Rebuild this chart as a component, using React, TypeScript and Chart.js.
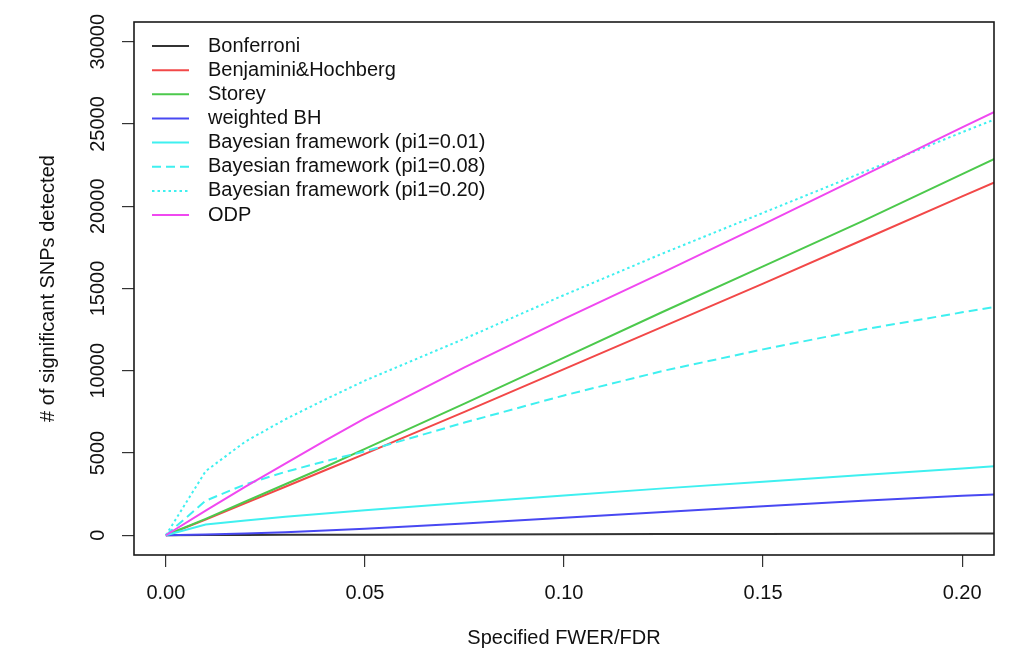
import React, { useEffect, useRef } from "react";
import { Chart, registerables } from "chart.js";

Chart.register(...registerables);

// Specified FWER/FDR levels (x)
const fdrLevels = [0, 0.01, 0.02, 0.03, 0.04, 0.05, 0.075, 0.1, 0.125, 0.15, 0.175, 0.2, 0.21];

// # of significant SNPs detected for each method
const bonferroni = [0, 10, 18, 25, 32, 38, 50, 62, 72, 82, 92, 100, 104];
const benjaminiHochberg = [0, 950, 1950, 2950, 3950, 4950, 7500, 10100, 12700, 15300, 17950, 20600, 21650];
const storey = [0, 1000, 2050, 3100, 4150, 5250, 8000, 10800, 13600, 16350, 19100, 21950, 23100];
const weightedBH = [0, 40, 110, 190, 290, 400, 720, 1070, 1420, 1770, 2100, 2400, 2500];
const bayesPi001 = [0, 650, 900, 1120, 1320, 1520, 1980, 2420, 2850, 3260, 3660, 4060, 4220];
const bayesPi008 = [0, 2100, 3100, 3850, 4500, 5100, 6850, 8500, 10000, 11300, 12500, 13550, 13950];
const bayesPi020 = [0, 3900, 5700, 7050, 8250, 9400, 11950, 14600, 17150, 19600, 22050, 24500, 25450];
const odp = [0, 1500, 2950, 4350, 5750, 7100, 10200, 13150, 16000, 18900, 21850, 24800, 25950];

const seriesLabels = [
  "Bonferroni",
  "Benjamini&Hochberg",
  "Storey",
  "weighted BH",
  "Bayesian framework (pi1=0.01)",
  "Bayesian framework (pi1=0.08)",
  "Bayesian framework (pi1=0.20)",
  "ODP",
];

const xTickValues = [0, 0.05, 0.1, 0.15, 0.2];
const yTickValues = [0, 5000, 10000, 15000, 20000, 25000, 30000];

const xTitle = "Specified FWER/FDR";
const yTitle = "# of significant SNPs detected";

const FONT = '20px "Liberation Sans", Arial, Helvetica, sans-serif';

export default function App() {
  const canvasRef = useRef<HTMLCanvasElement | null>(null);

  useEffect(() => {
    const canvas = canvasRef.current;
    if (!canvas) return;

    const values = [
      bonferroni,
      benjaminiHochberg,
      storey,
      weightedBH,
      bayesPi001,
      bayesPi008,
      bayesPi020,
      odp,
    ];
    const colors = ["#333333", "#f24848", "#4cc94c", "#4848f2", "#3ff0f0", "#3ff0f0", "#3ff0f0", "#f048f0"];
    const dashes: number[][] = [[], [], [], [], [], [9, 5], [2.5, 3], []];

    const datasets = values.map((vals, i) => ({
      label: seriesLabels[i],
      data: fdrLevels.map((x, j) => ({ x, y: vals[j] })),
      borderColor: colors[i],
      backgroundColor: colors[i],
      borderDash: dashes[i],
      borderWidth: 2,
      borderCapStyle: "butt" as const,
      pointRadius: 0,
      pointHoverRadius: 0,
      fill: false,
      tension: 0,
      clip: 0,
      order: values.length - i,
    }));

    const rStyle = {
      id: "rStyle",
      afterDraw(chart: any) {
        const { ctx, chartArea: a, scales } = chart;
        ctx.save();
        // plot box
        ctx.strokeStyle = "#1a1a1a";
        ctx.lineWidth = 1.6;
        ctx.setLineDash([]);
        ctx.strokeRect(a.left, a.top, a.right - a.left, a.bottom - a.top);

        ctx.fillStyle = "#111111";
        ctx.font = FONT;
        ctx.textAlign = "center";
        ctx.textBaseline = "middle";

        // x tick labels
        xTickValues.forEach((v) => {
          ctx.fillText(v.toFixed(2), scales.x.getPixelForValue(v), 593);
        });
        // y tick labels (rotated, as in R)
        yTickValues.forEach((v) => {
          const y = scales.y.getPixelForValue(v);
          ctx.save();
          ctx.translate(98, y);
          ctx.rotate(-Math.PI / 2);
          ctx.fillText(String(v), 0, 0);
          ctx.restore();
        });
        // axis titles
        ctx.fillText(xTitle, (a.left + a.right) / 2, 638);
        ctx.save();
        ctx.translate(48, (a.top + a.bottom) / 2);
        ctx.rotate(-Math.PI / 2);
        ctx.fillText(yTitle, 0, 0);
        ctx.restore();

        // legend
        ctx.textAlign = "left";
        chart.data.datasets.forEach((ds: any, i: number) => {
          const y = 46 + i * 24.15;
          ctx.save();
          ctx.strokeStyle = ds.borderColor;
          ctx.lineWidth = 2;
          ctx.setLineDash(ds.borderDash || []);
          ctx.beginPath();
          ctx.moveTo(152, y);
          ctx.lineTo(189, y);
          ctx.stroke();
          ctx.restore();
          ctx.fillText(ds.label, 208, y);
        });
        ctx.restore();
      },
    };

    const chart = new Chart(canvas, {
      type: "line",
      data: { datasets },
      options: {
        animation: false,
        responsive: false,
        devicePixelRatio: 1,
        layout: { padding: { top: 22, right: 25, left: 0, bottom: 0 } },
        plugins: {
          legend: { display: false },
          tooltip: { enabled: false },
        },
        scales: {
          x: {
            type: "linear",
            min: -0.008,
            max: 0.208,
            afterBuildTicks: (s: any) => {
              s.ticks = xTickValues.map((v) => ({ value: v }));
            },
            afterFit: (s: any) => {
              s.height = 100;
            },
            ticks: { display: false },
            grid: {
              display: true,
              drawOnChartArea: false,
              drawTicks: true,
              tickLength: 12,
              color: "#333333",
              lineWidth: 1.2,
            },
            border: { display: false },
          },
          y: {
            type: "linear",
            min: -1200,
            max: 31200,
            afterBuildTicks: (s: any) => {
              s.ticks = yTickValues.map((v) => ({ value: v }));
            },
            afterFit: (s: any) => {
              s.width = 134;
            },
            ticks: { display: false },
            grid: {
              display: true,
              drawOnChartArea: false,
              drawTicks: true,
              tickLength: 12,
              color: "#333333",
              lineWidth: 1.2,
            },
            border: { display: false },
          },
        },
      },
      plugins: [rStyle],
    });

    return () => chart.destroy();
  }, []);

  return (
    <canvas
      ref={canvasRef}
      width={1019}
      height={655}
      style={{ position: "absolute", left: 0, top: 0, width: 1019, height: 655, background: "#ffffff" }}
    />
  );
}
